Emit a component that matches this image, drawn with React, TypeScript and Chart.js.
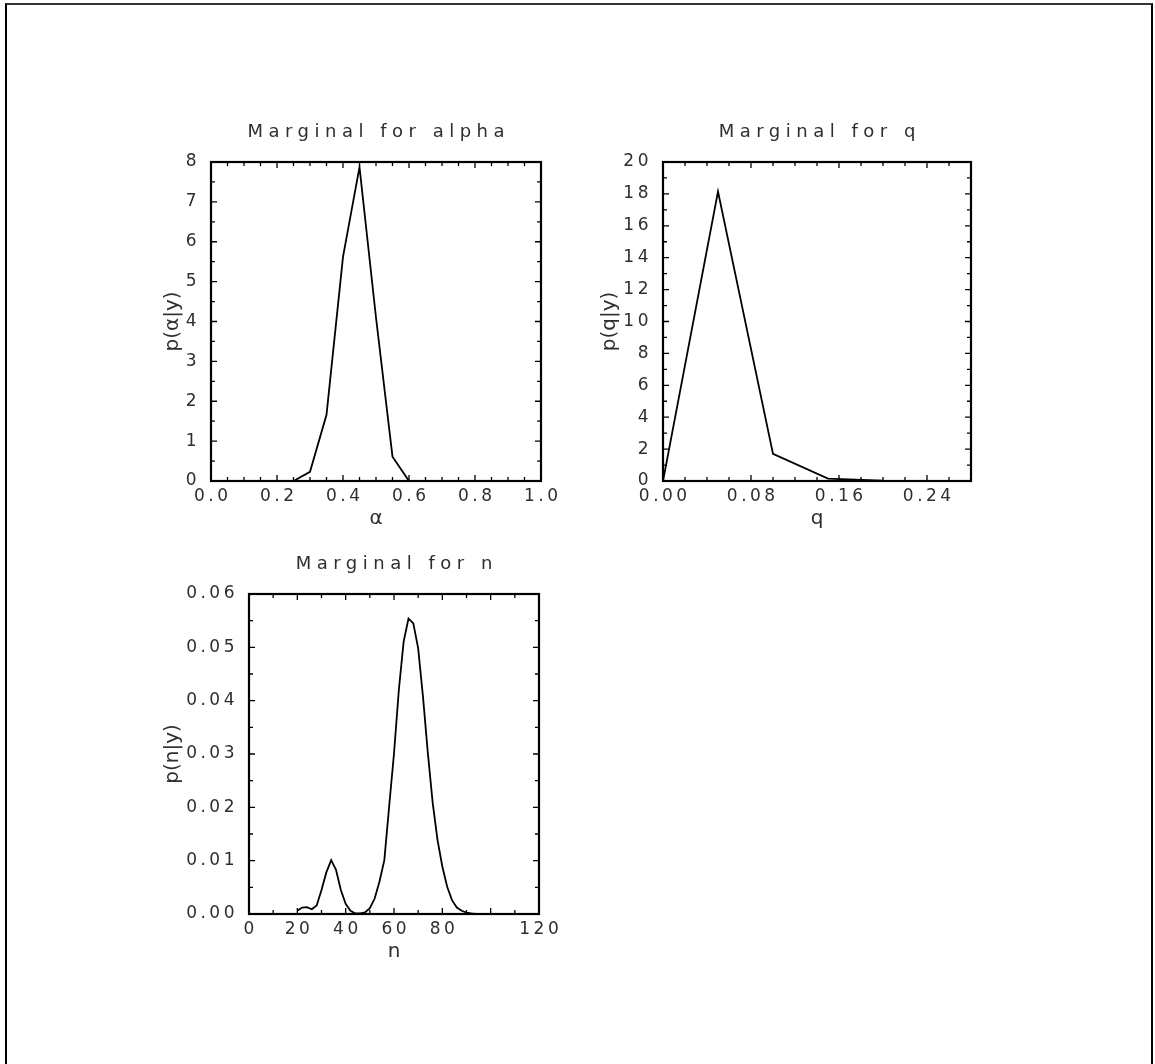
import React, { useEffect, useRef } from "react";
import { Chart, registerables } from "chart.js";

Chart.register(...registerables);

// ---------------- data ----------------
const alphaValues = [0.2, 0.25, 0.3, 0.35, 0.4, 0.45, 0.5, 0.55, 0.6, 0.65];
const alphaDensity = [0, 0, 0.23, 1.66, 5.62, 7.87, 4.1, 0.61, 0, 0];
const alphaXTicks = [0, 0.2, 0.4, 0.6, 0.8, 1.0];
const alphaYTicks = [0, 1, 2, 3, 4, 5, 6, 7, 8];

const qValues = [0, 0.05, 0.1, 0.15, 0.2, 0.25];
const qDensity = [0, 18.15, 1.7, 0.15, 0.02, 0];
const qXTicks = [0, 0.08, 0.16, 0.24];
const qYTicks = [0, 2, 4, 6, 8, 10, 12, 14, 16, 18, 20];

const nValues = [
  20, 22, 24, 26, 28, 30, 32, 34, 36, 38, 40, 42, 44, 46, 48, 50, 52, 54, 56, 58,
  60, 62, 64, 66, 68, 70, 72, 74, 76, 78, 80, 82, 84, 86, 88, 90, 92, 94, 96, 98, 100,
];
const nDensity = [
  0.0006, 0.0012, 0.0013, 0.0009, 0.0016, 0.0045, 0.0078, 0.0101, 0.0083, 0.0045,
  0.0019, 0.0006, 0.0001, 0.0001, 0.0003, 0.0011, 0.0029, 0.0061, 0.0101, 0.0202,
  0.0301, 0.042, 0.0511, 0.0554, 0.0545, 0.0498, 0.0407, 0.0302, 0.0209, 0.0139,
  0.0089, 0.0051, 0.0026, 0.0012, 0.0006, 0.00025, 0.0001, 0.00003, 0, 0, 0,
];
const nXTicks = [0, 20, 40, 60, 80, 100, 120];
const nXTickLabels = ["0", "20", "40", "60", "80", "", "120"];
const nYTicks = [0, 0.01, 0.02, 0.03, 0.04, 0.05, 0.06];

// ---------------- panels ----------------
type Panel = {
  title: string;
  xTitle: string;
  yTitle: string;
  xs: number[];
  ys: number[];
  xMin: number;
  xMax: number;
  yMin: number;
  yMax: number;
  xTicks: number[];
  yTicks: number[];
  xMinor: number;
  yMinor: number;
  xLabel: (v: number, i: number) => string;
  yLabel: (v: number, i: number) => string;
  frame: { left: number; top: number; right: number; bottom: number };
  yTitleOffset: number;
};

const panels: Panel[] = [
  {
    title: "Marginal for alpha",
    xTitle: "α",
    yTitle: "p(α|y)",
    xs: alphaValues,
    ys: alphaDensity,
    xMin: 0,
    xMax: 1,
    yMin: 0,
    yMax: 8,
    xTicks: alphaXTicks,
    yTicks: alphaYTicks,
    xMinor: 0.05,
    yMinor: 0.5,
    xLabel: (v) => v.toFixed(1),
    yLabel: (v) => String(v),
    frame: { left: 211, top: 162, right: 541, bottom: 481 },
    yTitleOffset: 38,
  },
  {
    title: "Marginal for q",
    xTitle: "q",
    yTitle: "p(q|y)",
    xs: qValues,
    ys: qDensity,
    xMin: 0,
    xMax: 0.28,
    yMin: 0,
    yMax: 20,
    xTicks: qXTicks,
    yTicks: qYTicks,
    xMinor: 0.02,
    yMinor: 1,
    xLabel: (v) => v.toFixed(2),
    yLabel: (v) => String(v),
    frame: { left: 663, top: 162, right: 971, bottom: 481 },
    yTitleOffset: 53,
  },
  {
    title: "Marginal for n",
    xTitle: "n",
    yTitle: "p(n|y)",
    xs: nValues,
    ys: nDensity,
    xMin: 0,
    xMax: 120,
    yMin: 0,
    yMax: 0.06,
    xTicks: nXTicks,
    yTicks: nYTicks,
    xMinor: 10,
    yMinor: 0.005,
    xLabel: (_v, i) => nXTickLabels[i],
    yLabel: (v) => v.toFixed(2),
    frame: { left: 249, top: 594, right: 539, bottom: 914 },
    yTitleOffset: 76,
  },
];

const PAD_L = 100;
const PAD_R = 30;
const PAD_T = 60;
const PAD_B = 60;
const FONT = "'DejaVu Sans', 'Liberation Sans', sans-serif";
const TEXT = "#2e2e2e";
const TICK_SPACING = 3.5;

function PanelChart({ p }: { p: Panel }) {
  const ref = useRef<HTMLCanvasElement | null>(null);
  const w = p.frame.right - p.frame.left + PAD_L + PAD_R;
  const h = p.frame.bottom - p.frame.top + PAD_T + PAD_B;

  useEffect(() => {
    if (!ref.current) return;
    const decor = {
      id: "decor",
      beforeDraw(chart: any) {
        chart.ctx.letterSpacing = `${TICK_SPACING}px`;
      },
      afterDraw(chart: any) {
        const ctx = chart.ctx as CanvasRenderingContext2D;
        const a = chart.chartArea;
        const xs = chart.scales.x;
        const ys = chart.scales.y;
        ctx.save();
        (ctx as any).letterSpacing = "0px";
        ctx.strokeStyle = "#000";
        ctx.lineWidth = 1.3;
        ctx.beginPath();
        const nx = Math.round((p.xMax - p.xMin) / p.xMinor);
        for (let i = 0; i <= nx; i++) {
          const v = p.xMin + i * p.xMinor;
          const major = p.xTicks.some((t) => Math.abs(t - v) < 1e-9);
          const L = major ? 6 : 4;
          const px = xs.getPixelForValue(v);
          ctx.moveTo(px, a.bottom);
          ctx.lineTo(px, a.bottom - L);
          ctx.moveTo(px, a.top);
          ctx.lineTo(px, a.top + L);
        }
        const ny = Math.round((p.yMax - p.yMin) / p.yMinor);
        for (let i = 0; i <= ny; i++) {
          const v = p.yMin + i * p.yMinor;
          const major = p.yTicks.some((t) => Math.abs(t - v) < 1e-9);
          const L = major ? 6 : 4;
          const py = ys.getPixelForValue(v);
          ctx.moveTo(a.left, py);
          ctx.lineTo(a.left + L, py);
          ctx.moveTo(a.right, py);
          ctx.lineTo(a.right - L, py);
        }
        ctx.stroke();
        ctx.lineWidth = 2.2;
        ctx.strokeRect(a.left, a.top, a.right - a.left, a.bottom - a.top);

        const cx = (a.left + a.right) / 2;
        const cy = (a.top + a.bottom) / 2;
        ctx.fillStyle = TEXT;
        ctx.textAlign = "center";
        ctx.textBaseline = "alphabetic";
        ctx.font = `18px ${FONT}`;
        (ctx as any).letterSpacing = "5.5px";
        ctx.fillText(p.title, cx + 2.75, a.top - 25);
        (ctx as any).letterSpacing = "0px";
        ctx.font = `20px ${FONT}`;
        ctx.fillText(p.xTitle, cx, a.bottom + 43);
        ctx.translate(a.left - p.yTitleOffset, cy);
        ctx.rotate(-Math.PI / 2);
        ctx.textBaseline = "middle";
        ctx.fillText(p.yTitle, 0, 0);
        ctx.restore();
      },
    };

    const chart = new Chart(ref.current, {
      type: "line",
      data: {
        datasets: [
          {
            data: p.xs.map((x, i) => ({ x, y: p.ys[i] })),
            borderColor: "#000",
            borderWidth: 1.8,
            pointRadius: 0,
            tension: 0,
            fill: false,
          },
        ],
      },
      options: {
        animation: false,
        responsive: false,
        devicePixelRatio: 1,
        events: [],
        layout: { padding: { left: 0, right: PAD_R, top: PAD_T, bottom: 0 } },
        plugins: {
          legend: { display: false },
          title: { display: false },
          tooltip: { enabled: false },
        },
        scales: {
          x: {
            type: "linear",
            min: p.xMin,
            max: p.xMax,
            afterFit: (s: any) => {
              s.height = PAD_B;
            },
            afterBuildTicks: (s: any) => {
              s.ticks = p.xTicks.map((v) => ({ value: v }));
            },
            grid: { display: false },
            border: { display: false },
            ticks: {
              autoSkip: false,
              maxRotation: 0,
              padding: -3,
              labelOffset: TICK_SPACING / 2,
              color: TEXT,
              font: { family: FONT, size: 17 },
              callback: (v: any, i: number) => p.xLabel(Number(v), i),
            },
          },
          y: {
            type: "linear",
            min: p.yMin,
            max: p.yMax,
            afterFit: (s: any) => {
              s.width = PAD_L;
            },
            afterBuildTicks: (s: any) => {
              s.ticks = p.yTicks.map((v) => ({ value: v }));
            },
            grid: { display: false },
            border: { display: false },
            ticks: {
              autoSkip: false,
              padding: 3,
              color: TEXT,
              font: { family: FONT, size: 17 },
              callback: (v: any, i: number) => p.yLabel(Number(v), i),
            },
          },
        },
      },
      plugins: [decor],
    } as any);
    return () => chart.destroy();
  }, [p]);

  return (
    <canvas
      ref={ref}
      width={w}
      height={h}
      style={{
        position: "absolute",
        left: p.frame.left - PAD_L,
        top: p.frame.top - PAD_T,
        width: w,
        height: h,
      }}
    />
  );
}

export default function App() {
  return (
    <div>
      <div
        style={{
          position: "absolute",
          left: 5,
          top: 3,
          width: 1144,
          height: 1061,
          borderLeft: "2px solid #000",
          borderRight: "2px solid #000",
          borderTop: "2px solid #333",
          boxSizing: "content-box",
        }}
      />
      {panels.map((p, i) => (
        <PanelChart key={i} p={p} />
      ))}
    </div>
  );
}
